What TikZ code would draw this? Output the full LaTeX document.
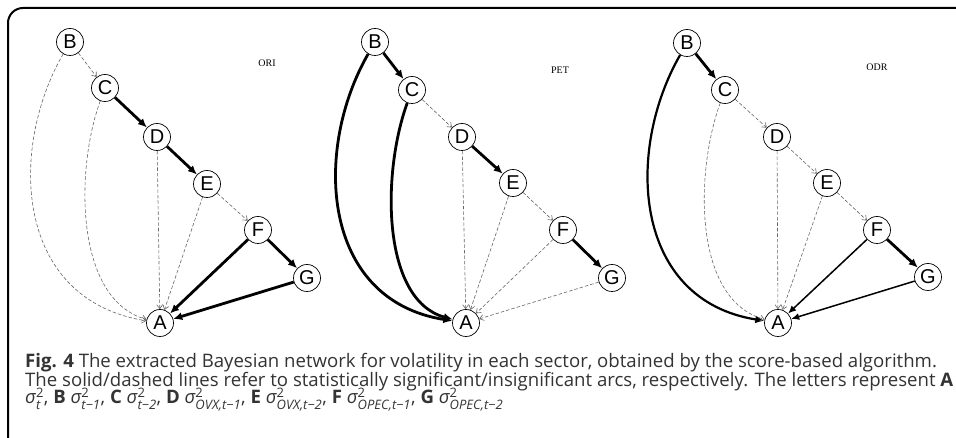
\documentclass[tikz,border=0pt]{standalone}
\usepackage{amsmath}
\usepackage{fontspec}
\setmainfont{Open Sans}
\newfontfamily\nodefont{Liberation Sans}
\newfontfamily\labfont{Liberation Serif}
\usetikzlibrary{arrows.meta}
\newcommand{\vol}[1]{$\text{\itshape σ}^{\text{2}}_{\text{\itshape #1}}$}

\begin{document}
\begin{tikzpicture}[x=1pt, y=1pt,
    var/.style={shape=circle, draw=black, line width=0.7pt, minimum size=27pt, inner sep=0pt, font=\nodefont\fontsize{20}{20}\selectfont},
    sig/.style={draw, line width=2.8pt, -{Latex[length=9pt,width=8pt]}},
    mid/.style={draw, line width=1.5pt, -{Latex[length=8pt,width=7pt]}},
    ins/.style={draw, black!60, line width=0.6pt, dash pattern=on 3.5pt off 2pt, -{Straight Barb[length=4pt,width=6pt]}},
    lab/.style={font=\labfont\fontsize{10}{10}\selectfont},
    captext/.style={anchor=base west, inner sep=0pt, text=black!80, font=\fontsize{18.6}{18}\selectfont}]
    \useasboundingbox (0,0) rectangle (956,438);
    \draw [line width=2pt, rounded corners=15pt] (8,-2) -- (8,430) -- (958,430);

    % ORI
    \node[var] (B1) at (70, 396) {B};
    \node[var] (C1) at (105, 350) {C};
    \node[var] (D1) at (157, 301) {D};
    \node[var] (E1) at (207, 254) {E};
    \node[var] (F1) at (258, 208) {F};
    \node[var] (G1) at (307, 160) {G};
    \node[var] (A1) at (160, 115) {A};
    \node[lab] (ori) at (267, 375) {ORI};

    \path [ins] (B1) edge (C1);
    \draw [ins] (B1) .. controls +(-62,-108) and +(-145,23) .. (A1);
    \path [sig] (C1) edge (D1);
    \draw [ins] (C1) .. controls +(-30,-82) and +(-85,23) .. (A1);
    \path [sig] (D1) edge (E1);
    \path [ins] (D1) edge (A1);
    \path [ins] (E1) edge (F1);
    \path [ins] (E1) edge (A1);
    \path [sig] (F1) edge (G1);
    \path [sig] (F1) edge (A1);
    \path [sig] (G1) edge (A1);

    % PET
    \node[var] (B2) at (375, 396) {B};
    \node[var] (C2) at (412, 348) {C};
    \node[var] (D2) at (462, 301) {D};
    \node[var] (E2) at (513, 255) {E};
    \node[var] (F2) at (563, 208) {F};
    \node[var] (G2) at (612, 160) {G};
    \node[var] (A2) at (466, 115) {A};
    \node[lab] (pet) at (560, 368) {PET};

    \path [sig] (B2) edge (C2);
    \draw [sig] (B2) .. controls +(-62,-108) and +(-145,23) .. (A2);
    \path [ins] (C2) edge (D2);
    \draw [sig] (C2) .. controls +(-30,-82) and +(-85,23) .. (A2);
    \path [sig] (D2) edge (E2);
    \path [ins] (D2) edge (A2);
    \path [ins] (E2) edge (F2);
    \path [ins] (E2) edge (A2);
    \path [sig] (F2) edge (G2);
    \path [ins] (F2) edge (A2);
    \path [ins] (G2) edge (A2);

    % ODR
    \node[var] (B3) at (687, 395) {B};
    \node[var] (C3) at (725, 348) {C};
    \node[var] (D3) at (777, 301) {D};
    \node[var] (E3) at (827, 255) {E};
    \node[var] (F3) at (877, 208) {F};
    \node[var] (G3) at (928, 161) {G};
    \node[var] (A3) at (778, 115) {A};
    \node[lab] (odr) at (877, 371) {ODR};

    \path [sig] (B3) edge (C3);
    \draw [sig, line width=2.2pt] (B3) .. controls +(-62,-108) and +(-145,23) .. (A3);
    \path [ins] (C3) edge (D3);
    \draw [ins] (C3) .. controls +(-30,-82) and +(-85,23) .. (A3);
    \path [ins] (D3) edge (E3);
    \path [ins] (D3) edge (A3);
    \path [ins] (E3) edge (F3);
    \path [ins] (E3) edge (A3);
    \path [sig] (F3) edge (G3);
    \path [mid] (F3) edge (A3);
    \path [mid] (G3) edge (A3);

    % caption
    \node[captext] (cap1) at (25, 70) {\textbf{Fig. 4} The extracted Bayesian network for volatility in each sector, obtained by the score-based algorithm.};
    \node[captext] (cap2) at (25, 51.5) {The solid/dashed lines refer to statistically significant/insignificant arcs, respectively. The letters represent \textbf{A}};
    \node[captext] (cap3) at (25, 34) {\vol{t}, \textbf{B} \vol{t−1}, \textbf{C} \vol{t−2}, \textbf{D} \vol{OVX,t−1}, \textbf{E} \vol{OVX,t−2}, \textbf{F} \vol{OPEC,t−1}, \textbf{G} \vol{OPEC,t−2}};
\end{tikzpicture}
\end{document}
